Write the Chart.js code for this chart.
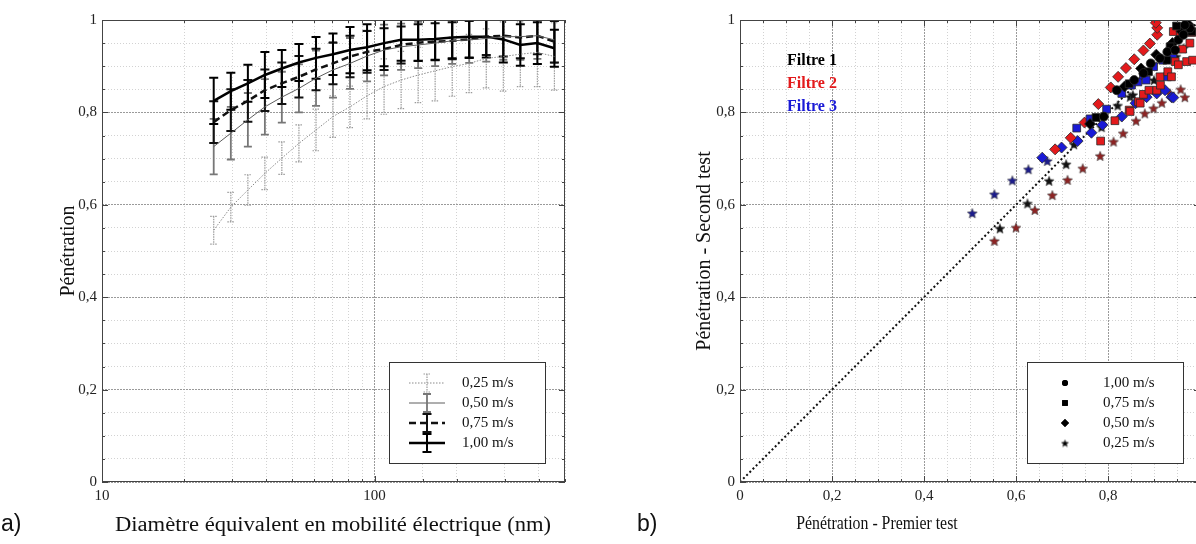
<!DOCTYPE html>
<html>
<head>
<meta charset="utf-8">
<script src="https://cdn.jsdelivr.net/npm/chart.js@4.4.1/dist/chart.umd.min.js"></script>
<style>
  html, body { margin: 0; padding: 0; background: #fff; overflow: hidden; width: 1196px; height: 544px; }
  #penDiam { position: absolute; left: 0; top: 0; }
  #penRepeat { position: absolute; left: 620px; top: 0; }
  .tag { position: absolute; font-family: "Liberation Sans", Arial, sans-serif; font-size: 23px; color: #111; top: 510px; }
  .xtitle { position: absolute; font-family: "Liberation Serif", "Times New Roman", serif; color: #111;
            white-space: nowrap; line-height: 1; }
</style>
</head>
<body>
<canvas id="penDiam" width="600" height="544"></canvas>
<canvas id="penRepeat" width="600" height="544"></canvas>
<div class="tag" style="left:1px">a)</div>
<div class="tag" style="left:637px">b)</div>
<div class="xtitle" style="left:333px; top:514px; font-size:20px; transform:translateX(-50%) scaleX(1.13)">Diamètre équivalent en mobilité électrique (nm)</div>
<div class="xtitle" style="left:877px; top:514px; font-size:18px; transform:translateX(-50%) scaleX(0.88)">Pénétration - Premier test</div>

<script>
// ── a) penetration vs mobility diameter ──
var diam = [25.7, 29.7, 34.3, 39.6, 45.7, 52.8, 61.0, 70.4, 81.3, 93.9, 108.4,
            125.2, 144.6, 166.9, 192.8, 222.6, 257.1, 296.9, 342.8, 395.9, 457.2];

var pen025 = [0.545, 0.595, 0.632, 0.668, 0.701, 0.733, 0.762, 0.791, 0.812, 0.836, 0.856,
              0.870, 0.881, 0.890, 0.899, 0.906, 0.917, 0.921, 0.926, 0.930, 0.921];
var pen050 = [0.726, 0.755, 0.784, 0.812, 0.833, 0.852, 0.874, 0.892, 0.906, 0.922, 0.935,
              0.942, 0.946, 0.950, 0.955, 0.957, 0.960, 0.964, 0.964, 0.966, 0.957];
var pen075 = [0.779, 0.805, 0.825, 0.848, 0.863, 0.877, 0.893, 0.906, 0.921, 0.931, 0.937,
              0.946, 0.951, 0.953, 0.955, 0.958, 0.964, 0.966, 0.962, 0.966, 0.953];
var pen100 = [0.825, 0.846, 0.863, 0.881, 0.895, 0.908, 0.918, 0.926, 0.935, 0.941, 0.950,
              0.957, 0.957, 0.959, 0.962, 0.964, 0.964, 0.958, 0.946, 0.950, 0.939];

var err025 = [0.030, 0.032, 0.033, 0.035, 0.035, 0.040, 0.045, 0.045, 0.045, 0.050, 0.060,
              0.062, 0.060, 0.065, 0.064, 0.063, 0.064, 0.075, 0.070, 0.074, 0.073];
var err050 = [0.060, 0.057, 0.058, 0.060, 0.055, 0.052, 0.060, 0.060, 0.055, 0.055, 0.055,
              0.050, 0.050, 0.050, 0.050, 0.050, 0.050, 0.050, 0.050, 0.050, 0.050];
var err075 = [0.045, 0.045, 0.045, 0.045, 0.045, 0.045, 0.045, 0.045, 0.045, 0.045, 0.045,
              0.040, 0.040, 0.040, 0.040, 0.040, 0.040, 0.045, 0.045, 0.040, 0.045];
var err100 = [0.050, 0.040, 0.040, 0.050, 0.040, 0.040, 0.045, 0.045, 0.050, 0.050, 0.050,
              0.045, 0.045, 0.045, 0.045, 0.045, 0.045, 0.050, 0.045, 0.045, 0.040];

var speedLabels = ['0,25 m/s', '0,50 m/s', '0,75 m/s', '1,00 m/s'];

// ── b) first test vs second test, [premier, second] ──
var f1v100 = [[0.791,0.791],[0.819,0.848],[0.857,0.870],[0.877,0.885],[0.893,0.906],[0.913,0.917],
              [0.929,0.931],[0.946,0.935],[0.953,0.957],[0.964,0.968],[0.978,0.982],[0.967,0.989]];
var f1v075 = [[0.774,0.789],[0.846,0.862],[0.888,0.888],[0.928,0.913],[0.935,0.942],[0.949,0.987],[0.982,0.975]];
var f1v050 = [[0.761,0.775],[0.836,0.856],[0.872,0.895],[0.905,0.925],[0.940,0.950],[0.960,0.975],[0.975,0.990]];
var f1v025 = [[0.565,0.549],[0.625,0.603],[0.672,0.652],[0.709,0.688],[0.726,0.731],[0.786,0.768],
              [0.821,0.815],[0.848,0.834],[0.854,0.838],[0.900,0.870],[0.948,0.921],[0.964,0.939]];

var f2v075 = [[0.784,0.738],[0.815,0.782],[0.846,0.805],[0.848,0.802],[0.866,0.823],[0.870,0.820],
              [0.877,0.839],[0.889,0.848],[0.906,0.848],[0.913,0.877],[0.914,0.859],[0.930,0.888],
              [0.938,0.877],[0.946,0.910],[0.953,0.903],[0.962,0.937],[0.971,0.910],[0.978,0.950],
              [0.984,0.913],[0.942,0.975],[0.957,0.970],[0.982,0.973]];
var f2v050 = [[0.685,0.720],[0.719,0.745],[0.749,0.778],[0.779,0.818],[0.806,0.854],[0.822,0.877],
              [0.839,0.896],[0.857,0.915],[0.877,0.934],[0.891,0.949],[0.907,0.968],[0.907,0.983],[0.904,0.994]];
var f2v025 = [[0.553,0.522],[0.600,0.551],[0.641,0.589],[0.679,0.621],[0.712,0.654],[0.745,0.679],
              [0.783,0.706],[0.812,0.737],[0.833,0.755],[0.861,0.782],[0.880,0.798],[0.899,0.809],
              [0.917,0.821],[0.935,0.841],[0.958,0.850],[0.967,0.833]];

var f3v075 = [[0.732,0.766],[0.761,0.786],[0.797,0.807],[0.830,0.841],[0.851,0.859],[0.865,0.866],
              [0.877,0.881],[0.883,0.870],[0.899,0.899],[0.919,0.913],[0.929,0.877],[0.941,0.917]];
var f3v050 = [[0.657,0.702],[0.699,0.724],[0.734,0.738],[0.764,0.756],[0.788,0.773],[0.830,0.791],
              [0.860,0.820],[0.884,0.833],[0.906,0.841],[0.924,0.848],[0.938,0.833],[0.942,0.832]];
var f3v025 = [[0.505,0.582],[0.553,0.623],[0.592,0.653],[0.627,0.677],[0.668,0.695]];

var identityLine = [0, 1];
var filterLabels = ['Filtre 1', 'Filtre 2', 'Filtre 3'];
var filterColors = ['#000000', '#e31a1c', '#1a1ad6'];
var starColors = ['#111111', '#8e2424', '#1c1c8c'];
var speedLabelsB = ['1,00 m/s', '0,75 m/s', '0,50 m/s', '0,25 m/s'];

var SERIF = '"Liberation Serif", "Times New Roman", serif';

// ── helpers ──
function isMajorLin(v) { return Math.abs(v * 5 - Math.round(v * 5)) < 1e-6; }
function isDecade(v) { var l = Math.log10(v); return Math.abs(l - Math.round(l)) < 1e-6; }
function fmtComma(v) { return String(Math.round(v * 10) / 10).replace('.', ','); }
function toXY(xs, ys) { return xs.map(function(x, i) { return { x: x, y: ys[i] }; }); }
function pairs(list) { return list.map(function(p) { return { x: p[0], y: p[1] }; }); }

function starImage(fill, size) {
  var c = document.createElement('canvas');
  c.width = c.height = size;
  var g = c.getContext('2d'), cx = size / 2, r = size / 2 - 0.8;
  g.beginPath();
  for (var i = 0; i < 10; i++) {
    var rad = i % 2 ? r * 0.45 : r;
    var ang = -Math.PI / 2 + i * Math.PI / 5;
    g.lineTo(cx + rad * Math.cos(ang), cx + 0.6 + rad * Math.sin(ang));
  }
  g.closePath();
  g.fillStyle = fill; g.fill();
  g.strokeStyle = '#444'; g.lineWidth = 0.6; g.stroke();
  return c;
}

function linAxis(title, titlePad, showTitle) {
  return {
    type: 'linear', min: 0, max: 1,
    ticks: {
      stepSize: 0.05, autoSkip: false, maxRotation: 0, padding: 5,
      color: '#222', font: { family: SERIF, size: 15 },
      callback: function(v) { return isMajorLin(v) ? fmtComma(v) : ''; }
    },
    grid: {
      drawTicks: false, lineWidth: 1,
      color: function(c) { return c.tick && isMajorLin(c.tick.value) ? '#9a9a9a' : '#d2d2d2'; }
    },
    border: {
      display: false,
      dash: function(c) { return c.tick && isMajorLin(c.tick.value) ? [2, 1] : [1, 2]; }
    },
    title: {
      display: showTitle, text: title, color: '#111',
      font: { family: SERIF, size: 20 }, padding: titlePad
    }
  };
}

// ── plugins ──
var frame = {
  id: 'frame',
  afterDatasetsDraw: function(chart) {
    var ctx = chart.ctx, a = chart.chartArea;
    ctx.save();
    ctx.strokeStyle = '#444'; ctx.lineWidth = 1; ctx.setLineDash([]);
    ctx.strokeRect(a.left + 0.5, a.top + 0.5, a.right - a.left - 1, a.bottom - a.top - 1);
    ctx.beginPath();
    var xs = chart.scales.x, ys = chart.scales.y;
    xs.ticks.forEach(function(t) {
      var px = Math.round(xs.getPixelForValue(t.value)) + 0.5;
      var len = t.label ? 6 : 3;
      ctx.moveTo(px, a.bottom); ctx.lineTo(px, a.bottom - len);
      ctx.moveTo(px, a.top); ctx.lineTo(px, a.top + len);
    });
    ys.ticks.forEach(function(t) {
      var py = Math.round(ys.getPixelForValue(t.value)) + 0.5;
      var len = t.label ? 6 : 3;
      ctx.moveTo(a.left, py); ctx.lineTo(a.left + len, py);
      ctx.moveTo(a.right, py); ctx.lineTo(a.right - len, py);
    });
    ctx.stroke();
    ctx.restore();
  }
};

var errorBars = {
  id: 'errorBars',
  beforeDatasetsDraw: function(chart) {
    var ctx = chart.ctx, a = chart.chartArea;
    var xs = chart.scales.x, ys = chart.scales.y;
    ctx.save();
    ctx.beginPath();
    ctx.rect(a.left, a.top, a.right - a.left, a.bottom - a.top);
    ctx.clip();
    chart.data.datasets.forEach(function(ds) {
      if (!ds.errors) return;
      ctx.strokeStyle = ds.errColor;
      ctx.lineWidth = ds.errWidth;
      ctx.setLineDash(ds.errDash || []);
      ds.data.forEach(function(p, i) {
        var x = xs.getPixelForValue(p.x);
        var y1 = ys.getPixelForValue(p.y + ds.errors[i]);
        var y2 = ys.getPixelForValue(p.y - ds.errors[i]);
        ctx.beginPath();
        ctx.moveTo(x, y1); ctx.lineTo(x, y2);
        ctx.moveTo(x - ds.capW, y1); ctx.lineTo(x + ds.capW, y1);
        ctx.moveTo(x - ds.capW, y2); ctx.lineTo(x + ds.capW, y2);
        ctx.stroke();
      });
    });
    ctx.restore();
  }
};

// legend with line + error bar samples
var speedLegend = {
  id: 'speedLegend',
  afterDraw: function(chart) {
    var ctx = chart.ctx, a = chart.chartArea;
    var bx = a.right - 176, by = a.bottom - 120, bw = 156, bh = 101;
    ctx.save();
    ctx.fillStyle = '#fff'; ctx.fillRect(bx, by, bw, bh);
    ctx.strokeStyle = '#333'; ctx.lineWidth = 1; ctx.setLineDash([]);
    ctx.strokeRect(bx + 0.5, by + 0.5, bw, bh);
    ctx.font = '15px ' + SERIF; ctx.textBaseline = 'middle'; ctx.fillStyle = '#111';
    chart.data.datasets.forEach(function(ds, i) {
      var y = by + 21 + i * 20, x0 = bx + 20, x1 = bx + 56, xm = (x0 + x1) / 2;
      ctx.strokeStyle = ds.borderColor; ctx.lineWidth = ds.borderWidth;
      ctx.setLineDash(ds.borderDash || []);
      ctx.beginPath(); ctx.moveTo(x0, y); ctx.lineTo(x1, y); ctx.stroke();
      ctx.strokeStyle = ds.errColor; ctx.lineWidth = ds.errWidth;
      ctx.setLineDash(ds.errDash || []);
      ctx.beginPath();
      ctx.moveTo(xm, y - 9); ctx.lineTo(xm, y + 9);
      ctx.moveTo(xm - ds.capW, y - 9); ctx.lineTo(xm + ds.capW, y - 9);
      ctx.moveTo(xm - ds.capW, y + 9); ctx.lineTo(xm + ds.capW, y + 9);
      ctx.stroke();
      ctx.fillText(ds.label, bx + 73, y);
    });
    ctx.restore();
  }
};

// filter names and marker legend
var scatterLegend = {
  id: 'scatterLegend',
  afterDraw: function(chart) {
    var ctx = chart.ctx, a = chart.chartArea;
    ctx.save();
    ctx.font = 'bold 16px ' + SERIF; ctx.textBaseline = 'middle';
    filterLabels.forEach(function(t, i) {
      ctx.fillStyle = filterColors[i];
      ctx.fillText(t, a.left + 47, a.top + 41 + i * 23);
    });
    var bx = a.right - 173, by = a.bottom - 120, bw = 156, bh = 101;
    ctx.fillStyle = '#fff'; ctx.fillRect(bx, by, bw, bh);
    ctx.strokeStyle = '#333'; ctx.lineWidth = 1;
    ctx.strokeRect(bx + 0.5, by + 0.5, bw, bh);
    var styles = ['circle', 'rect', 'rectRot', 'star'];
    ctx.font = '15px ' + SERIF;
    speedLabelsB.forEach(function(t, i) {
      var y = by + 21 + i * 20, x = bx + 38;
      ctx.fillStyle = '#000'; ctx.strokeStyle = '#000'; ctx.lineWidth = 1;
      if (styles[i] === 'star') {
        ctx.drawImage(starImage('#000', 9), x - 4.5, y - 4.5);
      } else {
        Chart.helpers.drawPoint(ctx, { pointStyle: styles[i], radius: styles[i] === 'circle' ? 3 : 4, borderWidth: 0 }, x, y);
        ctx.fill();
      }
      ctx.fillStyle = '#111';
      ctx.fillText(t, bx + 76, y);
    });
    ctx.restore();
  }
};

// ── chart a) ──
new Chart(document.getElementById('penDiam'), {
  type: 'line',
  data: {
    datasets: [
      { label: speedLabels[0], data: toXY(diam, pen025), errors: err025,
        borderColor: '#8a8a8a', borderWidth: 1, borderDash: [1.5, 1.5],
        errColor: '#9a9a9a', errWidth: 1.2, errDash: [1.5, 1], capW: 3.5 },
      { label: speedLabels[1], data: toXY(diam, pen050), errors: err050,
        borderColor: '#5e5e5e', borderWidth: 1, errColor: '#777', errWidth: 1.8, capW: 4 },
      { label: speedLabels[2], data: toXY(diam, pen075), errors: err075,
        borderColor: '#111', borderWidth: 2.5, borderDash: [7, 4],
        errColor: '#111', errWidth: 2, capW: 4.5 },
      { label: speedLabels[3], data: toXY(diam, pen100), errors: err100,
        borderColor: '#000', borderWidth: 2.5, errColor: '#000', errWidth: 2, capW: 4.5 }
    ]
  },
  options: {
    responsive: false, animation: false,
    layout: { padding: { left: 0, top: 20, right: 35, bottom: 0 } },
    elements: { point: { radius: 0, hoverRadius: 0 }, line: { tension: 0 } },
    plugins: { legend: { display: false }, tooltip: { enabled: false } },
    scales: {
      x: {
        type: 'logarithmic', min: 10, max: 500,
        afterFit: function(s) { s.height = 62; },
        ticks: {
          autoSkip: false, maxRotation: 0, padding: 5, color: '#222',
          font: { family: SERIF, size: 15 },
          callback: function(v) { return isDecade(v) ? String(v) : ''; }
        },
        grid: {
          drawTicks: false,
          color: function(c) { return c.tick && isDecade(c.tick.value) ? '#9a9a9a' : '#d2d2d2'; }
        },
        border: {
          display: false,
          dash: function(c) { return c.tick && isDecade(c.tick.value) ? [2, 1] : [1, 2]; }
        },
        title: { display: false }
      },
      y: Object.assign(linAxis('Pénétration', { top: 57, bottom: 0 }, true),
                       { afterFit: function(s) { s.width = 102; } })
    }
  },
  plugins: [errorBars, frame, speedLegend]
});

// ── chart b) ──
function markerSet(list, color, style, radius) {
  return { data: pairs(list), backgroundColor: color, borderColor: '#2a2a2a', borderWidth: 0.8,
           pointStyle: style, pointRadius: radius, pointHoverRadius: radius };
}

var scatterSets = [
  markerSet(f1v100, filterColors[0], 'circle', 4.5),
  markerSet(f1v075, filterColors[0], 'rect', 5.5),
  markerSet(f1v050, filterColors[0], 'rectRot', 5.5),
  markerSet(f2v075, filterColors[1], 'rect', 5.5),
  markerSet(f3v075, filterColors[2], 'rect', 5.5),
  markerSet(f2v050, filterColors[1], 'rectRot', 5.5),
  markerSet(f3v050, filterColors[2], 'rectRot', 5.5),
  markerSet(f1v025, starColors[0], starImage(starColors[0], 12), 6),
  markerSet(f2v025, starColors[1], starImage(starColors[1], 12), 6),
  markerSet(f3v025, starColors[2], starImage(starColors[2], 12), 6),
  { type: 'line', data: toXY(identityLine, identityLine), borderColor: '#111', borderWidth: 2,
    borderDash: [2, 2.5], pointRadius: 0, order: 10 }
];

new Chart(document.getElementById('penRepeat'), {
  type: 'scatter',
  data: { datasets: scatterSets },
  options: {
    responsive: false, animation: false,
    layout: { padding: { left: 0, top: 20, right: 20, bottom: 0 } },
    plugins: { legend: { display: false }, tooltip: { enabled: false } },
    scales: {
      x: Object.assign(linAxis('', 0, false), { afterFit: function(s) { s.height = 62; } }),
      y: Object.assign(linAxis('Pénétration - Second test', { top: 73, bottom: 0 }, true),
                       { afterFit: function(s) { s.width = 120; } })
    }
  },
  plugins: [frame, scatterLegend]
});
</script>
</body>
</html>
